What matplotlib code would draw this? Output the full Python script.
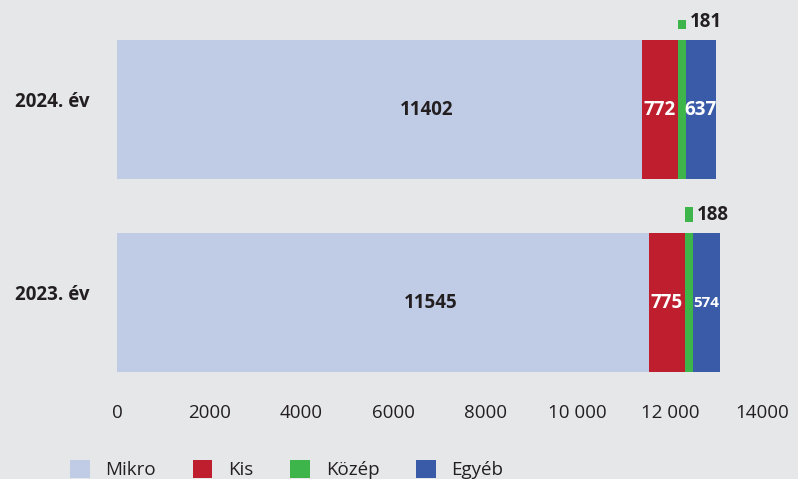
import numpy as np
import matplotlib.pyplot as plt
from matplotlib.patches import Patch

years = ['2023. év', '2024. év']
mikro = [11545, 11402]
kis = [775, 772]
kozep = [188, 181]
egyeb = [574, 637]
series_names = ['Mikro', 'Kis', 'Közép', 'Egyéb']
colors = ['#c0cce6', '#be1e2d', '#3db54a', '#3a5ba8']
xticks = [0, 2000, 4000, 6000, 8000, 10000, 12000, 14000]
xticklabels = ['0', '2000', '4000', '6000', '8000', '10 000', '12 000', '14000']

bg = '#e6e7e9'
txt = '#231f20'
plt.rcParams['font.family'] = ['Open Sans', 'DejaVu Sans']

fig = plt.figure(figsize=(7.98, 4.79), dpi=100, facecolor=bg)
# axes: x from px 117 to 762, y mapped so bar centres land at px 109 / 302
ax = fig.add_axes([117 / 798, 1 - 390 / 479, 645 / 798, 370 / 479], facecolor=bg)

y = np.arange(len(years))
h = 0.72
left = np.zeros(len(years))
for vals, c, name in zip([mikro, kis, kozep, egyeb], colors, series_names):
    ax.barh(y, vals, left=left, height=h, color=c, label=name)
    left += np.array(vals)

ax.set_xlim(0, 14000)
ax.set_ylim(-0.453, 1.464)

# small green marker sitting above each bar, aligned with the Közép segment
mark_y = y + h / 2 + 0.095
ax.barh(mark_y, kozep, left=np.array(mikro) + np.array(kis), height=0.08,
        color=colors[2])

for i in range(len(years)):
    ax.text(mikro[i] * 0.59, y[i], str(mikro[i]), ha='center', va='center',
            fontsize=13.5, fontweight='bold', color=txt)
    ax.text(mikro[i] + kis[i] / 2, y[i], str(kis[i]), ha='center', va='center',
            fontsize=13.5, fontweight='bold', color='white')
    x_e = mikro[i] + kis[i] + kozep[i] + egyeb[i] / 2
    ax.text(x_e, y[i], str(egyeb[i]), ha='center', va='center',
            fontsize=13.5 if i == 1 else 11, fontweight='bold', color='white')
    ax.text(mikro[i] + kis[i] + kozep[i] + 70, mark_y[i], str(kozep[i]),
            ha='left', va='center', fontsize=13.5, fontweight='bold', color=txt)

ax.set_yticks(y + 0.05)
ax.set_yticklabels(years, fontsize=13.5, fontweight='bold', color=txt)
ax.set_xticks(xticks)
ax.set_xticklabels(xticklabels, fontsize=13.5, color=txt)
ax.tick_params(length=0, axis='x', pad=10)
ax.tick_params(length=0, axis='y', pad=20)
for s in ax.spines.values():
    s.set_visible(False)

handles = [Patch(facecolor=c, label=n) for c, n in zip(colors, series_names)]
fig.legend(handles=handles, loc='lower left', bbox_to_anchor=(53 / 798, -0.035),
           ncol=4, frameon=False, fontsize=13.5, handlelength=1.05, handleheight=1.1,
           columnspacing=1.95, handletextpad=0.85, labelcolor=txt)

fig.savefig('out.png', dpi=100, facecolor=bg)
